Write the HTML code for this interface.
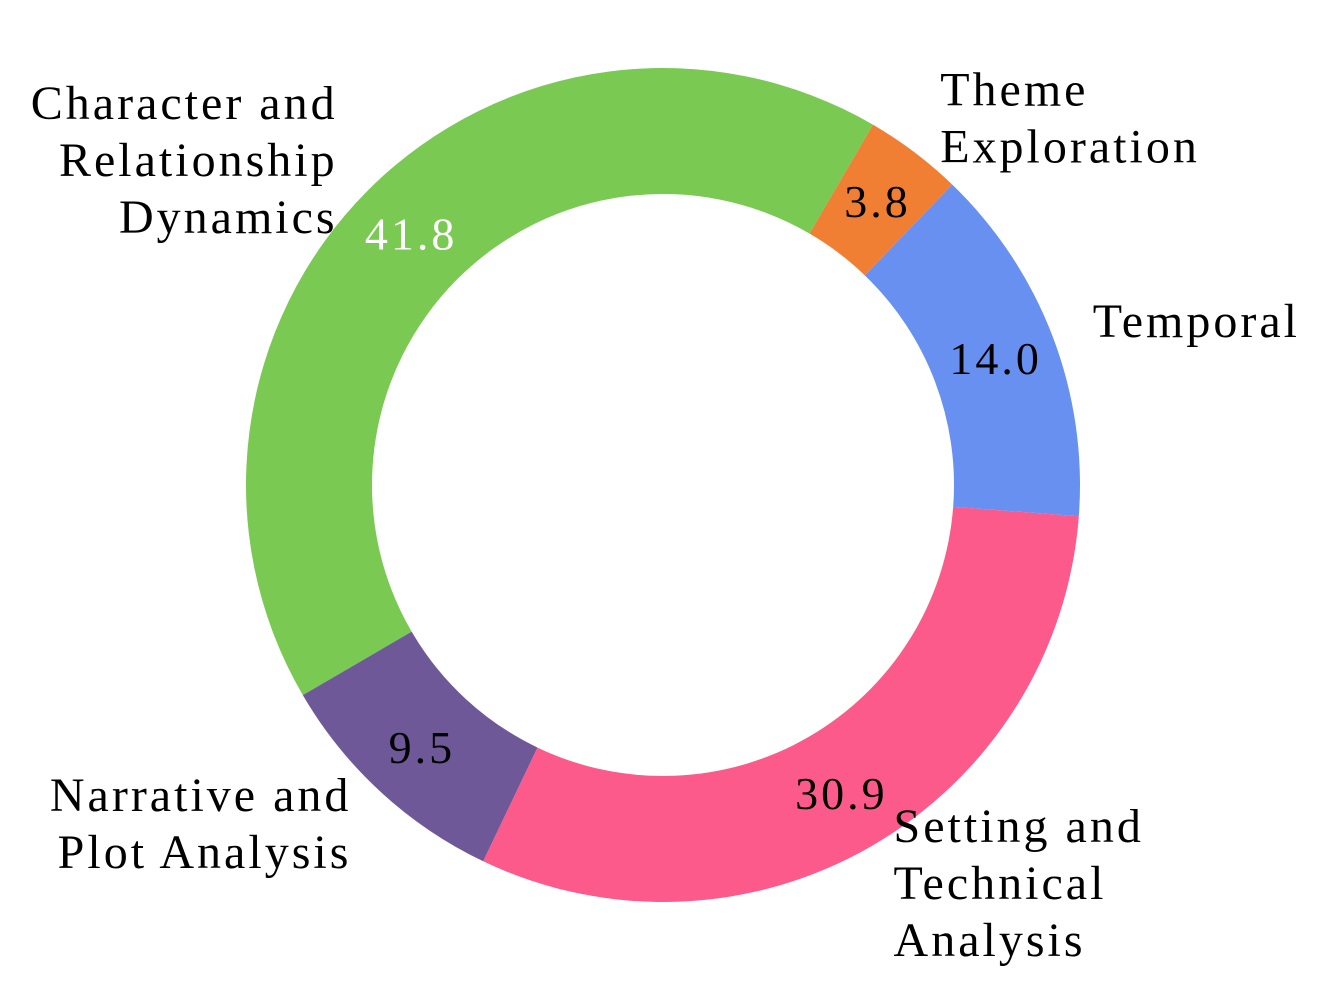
<!DOCTYPE html>
<html><head><meta charset="utf-8"><style>
html,body{margin:0;padding:0;background:#fff;}
svg text{font-family:"Liberation Serif","DejaVu Serif",serif;letter-spacing:3px;}
</style></head>
<body>
<svg id="chart" width="1324" height="984" viewBox="0 0 1324 984" xmlns="http://www.w3.org/2000/svg"></svg>
<script>
const categories = ["Temporal", "Theme Exploration", "Character and Relationship Dynamics", "Narrative and Plot Analysis", "Setting and Technical Analysis"];
const values = [14.0, 3.8, 41.8, 9.5, 30.9];
const valueLabels = ["14.0", "3.8", "41.8", "9.5", "30.9"];
const colors = ["#6890f0", "#f07f33", "#7ac952", "#6e5898", "#fb5a8a"];
const labelColors = ["#000", "#000", "#fff", "#000", "#000"];
const labelLines = [["Temporal"], ["Theme", "Exploration"], ["Character and", "Relationship", "Dynamics"], ["Narrative and", "Plot Analysis"], ["Setting and", "Technical", "Analysis"]];

const svg = document.getElementById('chart');
const NS = 'http://www.w3.org/2000/svg';
const cx = 663, cy = 485, R = 417, r = 291;
const startDeg = -4.3;
const total = values.reduce((a, b) => a + b, 0);
function pt(deg, rad) {
  const a = deg * Math.PI / 180;
  return [cx + rad * Math.cos(a), cy - rad * Math.sin(a)];
}
let acc = startDeg;
values.forEach((v, i) => {
  const a0 = acc, a1 = acc + v / total * 360;
  acc = a1;
  const large = (a1 - a0) > 180 ? 1 : 0;
  const p0 = pt(a0, R), p1 = pt(a1, R), q1 = pt(a1, r), q0 = pt(a0, r);
  const d = `M${p0[0]},${p0[1]} A${R},${R} 0 ${large} 0 ${p1[0]},${p1[1]} L${q1[0]},${q1[1]} A${r},${r} 0 ${large} 1 ${q0[0]},${q0[1]} Z`;
  const path = document.createElementNS(NS, 'path');
  path.setAttribute('d', d);
  path.setAttribute('fill', colors[i]);
  
  
  svg.appendChild(path);

  const mid = (a0 + a1) / 2;
  const vp = pt(mid, 356);
  const vt = document.createElementNS(NS, 'text');
  vt.setAttribute('x', vp[0]);
  vt.setAttribute('y', vp[1] + 16);
  vt.setAttribute('text-anchor', 'middle');
  vt.setAttribute('font-size', '46');
  vt.setAttribute('fill', labelColors[i]);
  vt.textContent = valueLabels[i];
  
  
  svg.appendChild(vt);

  const lp = pt(mid, 460);
  const lines = labelLines[i];
  const anchor = Math.cos(mid * Math.PI / 180) >= 0 ? 'start' : 'end';
  const lh = 57;
  const y0 = lp[1] - (lines.length - 1) * lh / 2 + 16;
  const lt = document.createElementNS(NS, 'text');
  lt.setAttribute('text-anchor', anchor);
  lt.setAttribute('font-size', '48');
  lt.setAttribute('fill', '#000');
  
  
  lines.forEach((ln, j) => {
    const ts = document.createElementNS(NS, 'tspan');
    ts.setAttribute('x', lp[0]);
    ts.setAttribute('y', y0 + j * lh);
    ts.textContent = ln;
    lt.appendChild(ts);
  });
  svg.appendChild(lt);
});
</script>
</body></html>
